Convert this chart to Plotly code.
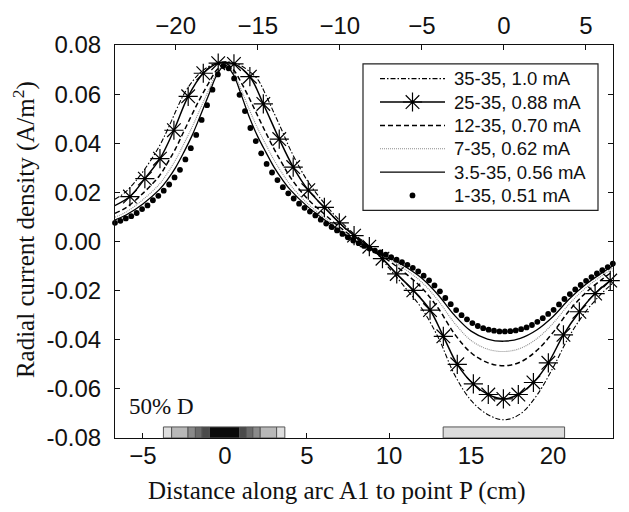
import plotly.graph_objects as go

# ---------------- data ----------------
series_names = ["35-35, 1.0 mA", "25-35, 0.88 mA", "12-35, 0.70 mA",
                "7-35, 0.62 mA", "3.5-35, 0.56 mA", "1-35, 0.51 mA"]

x_lines = [-6.7, -6, -5, -4, -3.5, -3, -2.5, -2, -1.5, -1, -0.5, 0, 0.5, 1, 1.5, 2,
           2.5, 3, 3.5, 4, 5, 6, 7, 8, 9, 10, 11, 12, 13, 14, 15, 16, 17, 18, 19,
           20, 21, 22, 23, 23.65]

j_35 = [0.0172, 0.0205, 0.0284, 0.0388, 0.0455, 0.0530, 0.0600, 0.0650, 0.0688, 0.0712,
        0.0727, 0.0732, 0.0728, 0.0715, 0.0692, 0.0660, 0.0595, 0.0522, 0.0448, 0.0372,
        0.0250, 0.0160, 0.0085, 0.0024, -0.0031, -0.0108, -0.0189, -0.0273, -0.0391,
        -0.0543, -0.0647, -0.0704, -0.0726, -0.0702, -0.0627, -0.0513, -0.0384, -0.0284,
        -0.0209, -0.0169]

j_12 = [0.0115, 0.0139, 0.0196, 0.0267, 0.0320, 0.0379, 0.0449, 0.0518, 0.0584, 0.0644,
        0.0698, 0.0724, 0.0701, 0.0646, 0.0581, 0.0511, 0.0442, 0.0376, 0.0316, 0.0260,
        0.0176, 0.0115, 0.0058, 0.0009, -0.0033, -0.0079, -0.0130, -0.0189, -0.0272,
        -0.0377, -0.0453, -0.0493, -0.0506, -0.0491, -0.0444, -0.0370, -0.0280, -0.0208,
        -0.0153, -0.0121]

j_7 = [0.0099, 0.0121, 0.0170, 0.0233, 0.0279, 0.0333, 0.0398, 0.0466, 0.0541, 0.0615,
       0.0686, 0.0720, 0.0689, 0.0616, 0.0535, 0.0460, 0.0394, 0.0331, 0.0277, 0.0229,
       0.0157, 0.0101, 0.0050, 0.0004, -0.0033, -0.0072, -0.0114, -0.0166, -0.0241,
       -0.0333, -0.0403, -0.0438, -0.0448, -0.0435, -0.0396, -0.0333, -0.0253, -0.0188,
       -0.0138, -0.0108]

j_3_5 = [0.0088, 0.0109, 0.0153, 0.0211, 0.0252, 0.0302, 0.0364, 0.0432, 0.0512, 0.0595,
         0.0677, 0.0718, 0.0681, 0.0596, 0.0504, 0.0427, 0.0363, 0.0302, 0.0252, 0.0209,
         0.0144, 0.0092, 0.0044, 0.0001, -0.0034, -0.0066, -0.0103, -0.0150, -0.0218,
         -0.0301, -0.0365, -0.0397, -0.0406, -0.0394, -0.0360, -0.0305, -0.0233, -0.0174,
         -0.0127, -0.0099]

x_stars = [-6.75, -5.79, -4.88, -3.96, -3.11, -2.24, -1.32, -0.41, 0.55, 1.52, 2.34, 3.31,
           4.16, 5.08, 6.06, 6.97, 7.87, 8.8, 9.6, 10.47, 11.48, 12.5, 13.31, 14.16, 15.14,
           16.05, 16.97, 17.88, 18.8, 19.71, 20.63, 21.6, 22.56, 23.48]
j_25 = [0.0145, 0.0183, 0.0256, 0.0337, 0.0453, 0.0591, 0.0685, 0.0726, 0.0723, 0.0671,
        0.0560, 0.0417, 0.0303, 0.0209, 0.0139, 0.0076, 0.0024, -0.0021, -0.0070, -0.0132,
        -0.0199, -0.0279, -0.0386, -0.0500, -0.0580, -0.0623, -0.0641, -0.0623, -0.0574,
        -0.0494, -0.0380, -0.0286, -0.0212, -0.0159]

x_dots = [-6.7, -6.37, -6.04, -5.71, -5.38, -5.05, -4.72, -4.39, -4.06, -3.73, -3.4, -3.07,
          -2.74, -2.41, -2.08, -1.75, -1.42, -1.09, -0.76, -0.43, -0.1, 0.23, 0.56, 0.89,
          1.22, 1.55, 1.88, 2.21, 2.54, 2.87, 3.2, 3.53, 3.86, 4.19, 4.52, 4.85, 5.18, 5.51,
          5.84, 6.17, 6.5, 6.83, 7.16, 7.49, 7.82, 8.15, 8.48, 8.81, 9.14, 9.47, 9.8, 10.13,
          10.46, 10.79, 11.12, 11.45, 11.78, 12.11, 12.44, 12.77, 13.1, 13.43, 13.76, 14.09,
          14.42, 14.75, 15.08, 15.41, 15.74, 16.07, 16.4, 16.73, 17.06, 17.39, 17.72, 18.05,
          18.38, 18.71, 19.04, 19.37, 19.7, 20.03, 20.36, 20.69, 21.02, 21.35, 21.68, 22.01,
          22.34, 22.67, 23.0, 23.33, 23.64]
j_1 = [0.0076, 0.0084, 0.0094, 0.0103, 0.0116, 0.0132, 0.0147, 0.0168, 0.0186, 0.0207,
       0.0232, 0.0261, 0.0292, 0.0334, 0.0380, 0.0434, 0.0495, 0.0555, 0.0618, 0.0680,
       0.0714, 0.0705, 0.0664, 0.0597, 0.0531, 0.0462, 0.0409, 0.0359, 0.0316, 0.0281,
       0.0250, 0.0221, 0.0196, 0.0175, 0.0154, 0.0137, 0.0122, 0.0106, 0.0089, 0.0073,
       0.0059, 0.0045, 0.0031, 0.0017, 0.0004, -0.0007, -0.0018, -0.0029, -0.0037, -0.0044,
       -0.0054, -0.0064, -0.0074, -0.0084, -0.0095, -0.0107, -0.0122, -0.0139, -0.0158,
       -0.0179, -0.0203, -0.0230, -0.0255, -0.0279, -0.0300, -0.0317, -0.0332, -0.0344,
       -0.0353, -0.0359, -0.0363, -0.0366, -0.0366, -0.0365, -0.0362, -0.0357, -0.0350,
       -0.0340, -0.0327, -0.0312, -0.0295, -0.0278, -0.0256, -0.0234, -0.0214, -0.0195,
       -0.0177, -0.0160, -0.0145, -0.0130, -0.0117, -0.0104, -0.0090]

bottom_ticks = [-5, 0, 5, 10, 15, 20]
top_ticks = [-20, -15, -10, -5, 0, 5]
top_offset = 17          # top scale = bottom scale - 17 cm (point P)
y_ticks = [0.08, 0.06, 0.04, 0.02, 0.00, -0.02, -0.04, -0.06, -0.08]
y_ticktext = ["0.08", "0.06", "0.04", "0.02", "0.00", "-0.02", "-0.04", "-0.06", "-0.08"]

# 50% D electrode bar (segment edges, cm) and its grey shades
d50_edges = [-3.75, -3.25, -2.25, -1.8, -1.4, -0.95, 0.9, 1.3, 1.7, 2.15, 3.15, 3.65]
d50_shades = ["#dedede", "#b8b8b8", "#8a8a8a", "#6a6a6a", "#4a4a4a", "#0a0a0a",
              "#4a4a4a", "#6a6a6a", "#8a8a8a", "#b8b8b8", "#dedede"]
p_bar = [13.3, 20.7]
bar_height = [-0.08, -0.0755]

# ---------------- figure ----------------
W, H = 629, 512
ML, MR, MT, MB = 115, 16, 41, 74
XR = [-6.7, 23.65]

def px_to_paper_x(px):
    return (px - ML) / (W - ML - MR)

def py_to_paper_y(py):
    return (H - MB - py) / (H - MT - MB)

SANS = "Liberation Sans, Arial, sans-serif"
SERIF = "Liberation Serif, Times New Roman, serif"

styles = {
    "35": dict(color="black", width=1.1, dash="5px,2px,1.5px,2px"),
    "25": dict(color="black", width=1.5),
    "12": dict(color="black", width=1.5, dash="5px,3px"),
    "7": dict(color="#8c8c8c", width=1.1, dash="1px,1px"),
    "3.5": dict(color="black", width=1.3),
}
star_marker = dict(symbol="asterisk-open", size=16, color="black",
                   line=dict(color="black", width=1.2))
dot_marker = dict(symbol="circle", size=5.8, color="black")

fig = go.Figure()
fig.add_trace(go.Scatter(x=x_lines, y=j_35, mode="lines", line_shape="spline",
                         line=styles["35"], showlegend=False))
fig.add_trace(go.Scatter(x=x_lines, y=j_12, mode="lines", line_shape="spline",
                         line=styles["12"], showlegend=False))
fig.add_trace(go.Scatter(x=x_lines, y=j_7, mode="lines", line_shape="spline",
                         line=styles["7"], showlegend=False))
fig.add_trace(go.Scatter(x=x_lines, y=j_3_5, mode="lines", line_shape="spline",
                         line=styles["3.5"], showlegend=False))
fig.add_trace(go.Scatter(x=x_dots, y=j_1, mode="markers", marker=dot_marker,
                         cliponaxis=False, showlegend=False))
fig.add_trace(go.Scatter(x=x_stars, y=j_25, mode="lines+markers", line_shape="spline",
                         line=styles["25"], marker=star_marker,
                         cliponaxis=False, showlegend=False))
# empty trace so that the top (offset) axis is drawn
fig.add_trace(go.Scatter(x=[], y=[], xaxis="x2", yaxis="y", showlegend=False,
                         hoverinfo="skip"))

shapes = []
# electrode bars
for i in range(len(d50_shades)):
    shapes.append(dict(type="rect", xref="x", yref="y", x0=d50_edges[i], x1=d50_edges[i + 1],
                       y0=bar_height[0], y1=bar_height[1], fillcolor=d50_shades[i],
                       line=dict(color="#555", width=1), layer="above"))
shapes.append(dict(type="rect", xref="x", yref="y", x0=p_bar[0], x1=p_bar[1],
                   y0=bar_height[0], y1=bar_height[1], fillcolor="#dcdcdc",
                   line=dict(color="#555", width=1), layer="above"))

# custom legend
LEG_L, LEG_R, LEG_T, LEG_B = 363, 598, 60, 208
rows = [75, 98.6, 122.2, 145.8, 169.4, 193]
SYM_L, SYM_R, TXT_L = 380, 445, 452
shapes.append(dict(type="rect", xref="paper", yref="paper",
                   x0=px_to_paper_x(LEG_L), x1=px_to_paper_x(LEG_R),
                   y0=py_to_paper_y(LEG_B), y1=py_to_paper_y(LEG_T),
                   fillcolor="white", line=dict(color="#222", width=1.2), layer="below"))
leg_line_styles = [styles["35"], styles["25"], styles["12"], styles["7"], styles["3.5"], None]
annotations = []
for r, st, name in zip(rows, leg_line_styles, series_names):
    if st is not None:
        shapes.append(dict(type="line", xref="paper", yref="paper",
                           x0=px_to_paper_x(SYM_L), x1=px_to_paper_x(SYM_R),
                           y0=py_to_paper_y(r), y1=py_to_paper_y(r),
                           line=st, layer="below"))
    annotations.append(dict(xref="paper", yref="paper", x=px_to_paper_x(TXT_L),
                            y=py_to_paper_y(r), text=name, showarrow=False,
                            xanchor="left", yanchor="middle",
                            font=dict(family=SANS, size=18.5, color="#111")))

# legend markers drawn on a hidden overlay axis spanning [0,1]
sym_cx = px_to_paper_x((SYM_L + SYM_R) / 2)
fig.add_trace(go.Scatter(x=[sym_cx], y=[py_to_paper_y(rows[1])], xaxis="x3", yaxis="y2",
                         mode="markers", cliponaxis=False, showlegend=False,
                         marker=star_marker, hoverinfo="skip"))
fig.add_trace(go.Scatter(x=[sym_cx], y=[py_to_paper_y(rows[5])], xaxis="x3", yaxis="y2",
                         mode="markers", cliponaxis=False, showlegend=False,
                         marker=dot_marker, hoverinfo="skip"))

# titles and label
annotations.append(dict(xref="paper", yref="paper", x=px_to_paper_x(336), y=py_to_paper_y(492),
                        text="Distance along arc A1 to point P (cm)", showarrow=False,
                        xanchor="center", yanchor="middle",
                        font=dict(family=SERIF, size=25, color="#111")))
annotations.append(dict(xref="paper", yref="paper", x=px_to_paper_x(24), y=py_to_paper_y(228),
                        text="Radial current density (A/m<sup>2</sup>)", showarrow=False,
                        textangle=-90, xanchor="center", yanchor="middle",
                        font=dict(family=SERIF, size=25, color="#111")))
annotations.append(dict(xref="paper", yref="paper", x=px_to_paper_x(127), y=py_to_paper_y(406),
                        text="50% D", showarrow=False, xanchor="left", yanchor="middle",
                        font=dict(family=SERIF, size=23, color="#111")))

axis_common = dict(showline=True, linecolor="#111", linewidth=1.2, ticks="inside",
                   ticklen=5, tickwidth=1.1, tickcolor="#111", showgrid=False, zeroline=False,
                   tickfont=dict(family=SANS, size=24, color="#111"))

fig.update_layout(
    width=W, height=H, margin=dict(l=ML, r=MR, t=MT, b=MB),
    plot_bgcolor="white", paper_bgcolor="white",
    xaxis=dict(range=XR, tickvals=bottom_ticks, ticklabelstandoff=-4, **axis_common),
    xaxis2=dict(range=[XR[0] - top_offset, XR[1] - top_offset], tickvals=top_ticks,
                overlaying="x", side="top", anchor="y", **axis_common),
    xaxis3=dict(range=[0, 1], overlaying="x", visible=False),
    yaxis=dict(range=[-0.08, 0.08], tickvals=y_ticks, ticktext=y_ticktext, mirror="ticks",
               ticklabelstandoff=8, **axis_common),
    yaxis2=dict(range=[0, 1], overlaying="y", visible=False),
    shapes=shapes, annotations=annotations, showlegend=False,
)

fig.write_html("out.html", config={"displayModeBar": False},
               post_script="document.body.style.margin='0';")
